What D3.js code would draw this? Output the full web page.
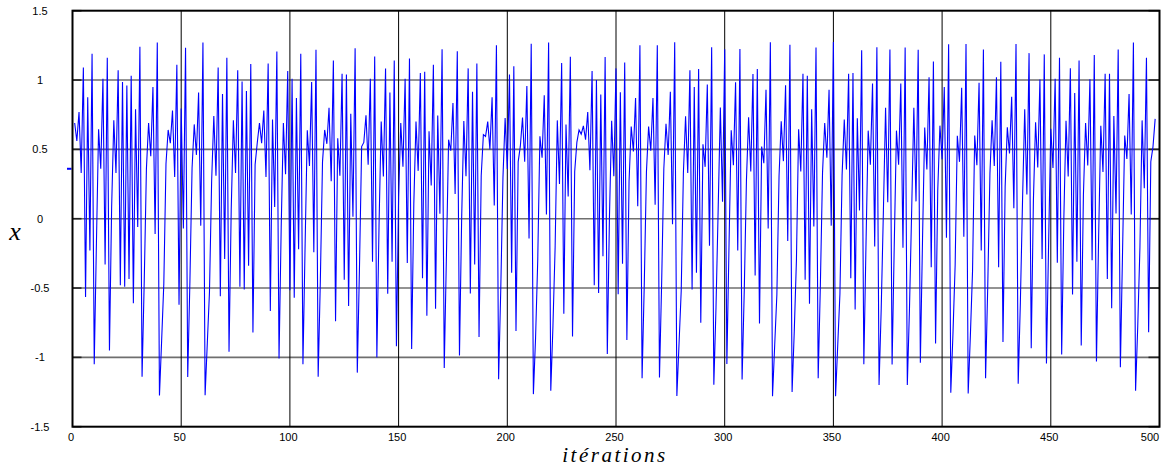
<!DOCTYPE html>
<html><head><meta charset="utf-8">
<script src="https://cdn.jsdelivr.net/npm/d3@7"></script>
<style>body{margin:0;background:#fff}svg{display:block}</style>
</head><body>
<svg id="chart" width="1164" height="466"></svg>
<script>
const firstIteration = 1;
const xValues = [
0.69,0.56,0.77,0.33,1.09,-0.565,0.875,-0.23,1.19,-1.05,
-0.18,0.645,0.36,1.01,-0.33,1.16,-0.95,0.08,0.71,0.33,
1.07,-0.48,0.985,-0.49,0.96,-0.435,1.03,-0.61,0.79,-0.06,
1.24,-1.14,-0.45,0.36,0.69,0.45,0.95,-0.11,1.27,-1.275,
-0.88,-0.47,0.395,0.64,0.545,0.78,0.30,1.11,-0.62,0.795,
-0.07,1.233,-1.142,-0.456,0.366,0.68,0.46,0.91,-0.05,1.27,
-1.273,-0.9,-0.53,0.27,0.74,0.31,1.09,-0.56,0.90,-0.29,
1.16,-0.96,0.058,0.71,0.33,1.07,-0.49,0.99,-0.51,0.92,
-0.34,1.115,-0.82,0.39,0.55,0.69,0.545,0.78,0.30,1.12,
-0.666,0.715,0.084,1.205,-1.008,-0.061,0.69,0.32,1.065,-0.516,
1.01,-0.57,0.87,-0.22,1.19,-1.05,-0.186,0.637,0.38,0.985,
-0.242,1.218,-1.14,-0.45,0.41,0.64,0.54,0.80,0.27,
1.14,-0.74,0.58,0.31,1.045,-0.44,1.04,-0.63,0.756,0.014,
1.23,-1.11,-0.356,0.52,0.55,0.745,0.39,1.01,-0.31,1.17,
-1.0,-0.049,0.70,0.305,1.083,-0.541,0.91,-0.31,1.14,-0.92,
0.157,0.69,0.375,1.01,-0.32,1.155,-0.94,0.108,0.70,0.345,
1.05,-0.43,1.06,-0.70,0.63,0.24,1.11,-0.65,0.745,0.035,
1.222,-1.077,-0.267,0.57,0.49,0.834,0.178,1.207,-0.986,-0.002,
0.705,0.306,1.084,-0.54,0.915,-0.33,1.12,-0.853,0.31,0.607,
0.594,0.70,0.50,0.875,0.096,1.25,-1.157,-0.505,0.296,0.726,
0.358,1.04,-0.39,1.10,-0.81,0.41,0.523,0.73,0.41,0.957,
-0.142,1.262,-1.265,-0.86,-0.30,0.594,0.44,0.89,0.03,1.27,
-1.24,-0.772,-0.206,0.709,0.25,1.122,-0.685,0.68,0.16,1.167,
-0.85,0.34,0.55,0.64,0.61,0.67,0.57,0.77,0.35,1.065,
-0.48,1.0,-0.536,0.895,-0.27,1.166,-0.975,0.019,0.707,0.306,
1.084,-0.544,0.911,-0.325,1.127,-0.875,0.266,0.665,0.485,0.87,
0.09,1.25,-1.15,-0.4765,0.337,0.665,0.49,0.87,0.10,1.25,
-1.145,-0.46,0.36,0.685,0.46,0.915,-0.04,1.272,-1.278,-0.90,
-0.52,0.33,0.738,0.33,1.07,-0.51,0.95,-0.39,1.08,-0.75,
0.537,0.374,0.968,-0.195,1.236,-1.198,-0.638,0.071,0.802,0.122,
1.222,-1.048,-0.1775,0.638,0.385,0.984,-0.23,1.223,-1.16,-0.517,
0.278,0.732,0.34,1.043,-0.41,1.08,-0.756,0.52,0.40,0.93,
-0.07,1.272,-1.28,-0.911,-0.546,0.31,0.702,0.415,0.962,-0.16,
1.255,-1.25,-0.811,-0.296,0.645,0.34,1.045,-0.44,1.03,-0.613,
0.789,-0.056,1.235,-1.15,-0.481,0.331,0.69,0.44,0.93,-0.05,
1.275,-1.28,-0.91,-0.543,0.314,0.715,0.355,1.045,-0.43,1.05,
-0.655,0.725,0.06,1.215,-1.05,-0.179,0.635,0.39,0.975,-0.2,
1.237,-1.2,-0.645,0.058,0.80,0.118,1.221,-1.052,-0.183,0.635,
0.39,0.975,-0.21,1.235,-1.2,-0.645,0.058,0.80,0.125,1.218,
-1.039,-0.146,0.658,0.355,1.02,-0.35,1.1345,-0.9,0.206,0.671,
0.428,0.95,-0.137,1.2585,-1.255,-0.8275,-0.335,0.598,0.41,0.945,
-0.13,1.26,-1.26,-0.845,-0.378,0.60,0.385,0.98,-0.23,1.22,
-1.15,-0.4855,0.325,0.71,0.38,1.02,-0.35,1.132,-0.89,0.23,
0.659,0.47,0.88,0.075,1.26,-1.19,-0.604,0.132,0.79,0.175,
1.194,-0.935,0.134,0.695,0.37,1.003,-0.29,1.185,-1.045,-0.173,
0.648,0.366,1.01,-0.318,1.16,-0.98,0.004,0.706,0.304,1.085,
-0.547,0.906,-0.31,1.14,-0.915,0.17,0.69,0.384,1.005,-0.299,
1.18,-1.03,-0.131,0.67,0.337,1.045,-0.435,1.045,-0.645,0.74,
0.037,1.22,-1.072,-0.243,0.60,0.43,0.90,0.03,1.27,-1.24,
-0.772,-0.206,0.709,0.22,1.16,-0.818,0.411,0.518,0.72
];
const initialMarker = [0.36];
const yTicks = [-1.5,-1,-0.5,0,0.5,1,1.5];
const yTickLabels = ["-1.5","-1","-0.5","0","0.5","1","1.5"];
const xTicks = [0,50,100,150,200,250,300,350,400,450,500];
const xTickLabels = ["0","50","100","150","200","250","300","350","400","450","500"];
const yTitle = "x";
const xTitle = "itérations";

const svg = d3.select('#chart');
const L = 72.5, R = 1159.5, T = 10.7, B = 426.7;
const x = d3.scaleLinear().domain([0, 500]).range([L, R]);
const y = d3.scaleLinear().domain([-1.5, 1.5]).range([B, T]);

// horizontal grid
svg.append('g').selectAll('line').data(yTicks.slice(1, -1)).join('line')
  .attr('x1', L).attr('x2', R).attr('y1', d => y(d)).attr('y2', d => y(d))
  .attr('stroke', '#6f6f6f').attr('stroke-width', 1.6);
// vertical grid
svg.append('g').selectAll('line').data(xTicks.slice(1, -1)).join('line')
  .attr('x1', d => x(d)).attr('x2', d => x(d)).attr('y1', T).attr('y2', B)
  .attr('stroke', '#000').attr('stroke-width', 1);
// y ticks inside left and right
const tk = svg.append('g');
tk.selectAll('line.l').data(yTicks).join('line').attr('class', 'l')
  .attr('x1', L).attr('x2', L + 9).attr('y1', d => y(d)).attr('y2', d => y(d))
  .attr('stroke', '#222').attr('stroke-width', 1.6);
tk.selectAll('line.r').data(yTicks).join('line').attr('class', 'r')
  .attr('x1', R - 11).attr('x2', R).attr('y1', d => y(d)).attr('y2', d => y(d))
  .attr('stroke', '#222').attr('stroke-width', 1.6);

// series
const pts = xValues.map((v, i) => [firstIteration + i, v]);
svg.append('path').datum(pts)
  .attr('fill', 'none').attr('stroke', '#0000ff').attr('stroke-width', 1.1)
  .attr('d', d3.line().x(d => x(d[0])).y(d => y(d[1])));
// initial marker dash
svg.append('g').selectAll('line').data(initialMarker).join('line')
  .attr('x1', x(0) - 5.5).attr('x2', x(0) - 1).attr('y1', d => y(d)).attr('y2', d => y(d))
  .attr('stroke', '#0000ff').attr('stroke-width', 2);

// frame
svg.append('rect').attr('x', L).attr('y', T).attr('width', R - L).attr('height', B - T)
  .attr('fill', 'none').attr('stroke', '#000').attr('stroke-width', 2);

// labels
svg.append('g').selectAll('text').data(yTicks).join('text')
  .attr('x', 40).attr('y', d => y(d)).attr('dy', '0.35em')
  .attr('text-anchor', 'middle').attr('font-family', 'Liberation Sans, Arial, sans-serif')
  .attr('font-size', 11).text((d, i) => yTickLabels[i]);
svg.append('g').selectAll('text').data(xTicks).join('text')
  .attr('x', d => Math.min(x(d) - 1.5, 1150)).attr('y', 441)
  .attr('text-anchor', 'middle').attr('font-family', 'Liberation Sans, Arial, sans-serif')
  .attr('font-size', 11).text((d, i) => xTickLabels[i]);
svg.append('text').attr('x', 15).attr('y', 240).attr('text-anchor', 'middle')
  .attr('font-family', 'Liberation Serif, Times New Roman, serif').attr('font-style', 'italic')
  .attr('font-size', 26).text(yTitle);
svg.append('text').attr('x', 615).attr('y', 462).attr('text-anchor', 'middle')
  .attr('font-family', 'Liberation Serif, Times New Roman, serif').attr('font-style', 'italic')
  .attr('font-size', 21).attr('letter-spacing', 2.5).text(xTitle);
</script>
</body></html>
